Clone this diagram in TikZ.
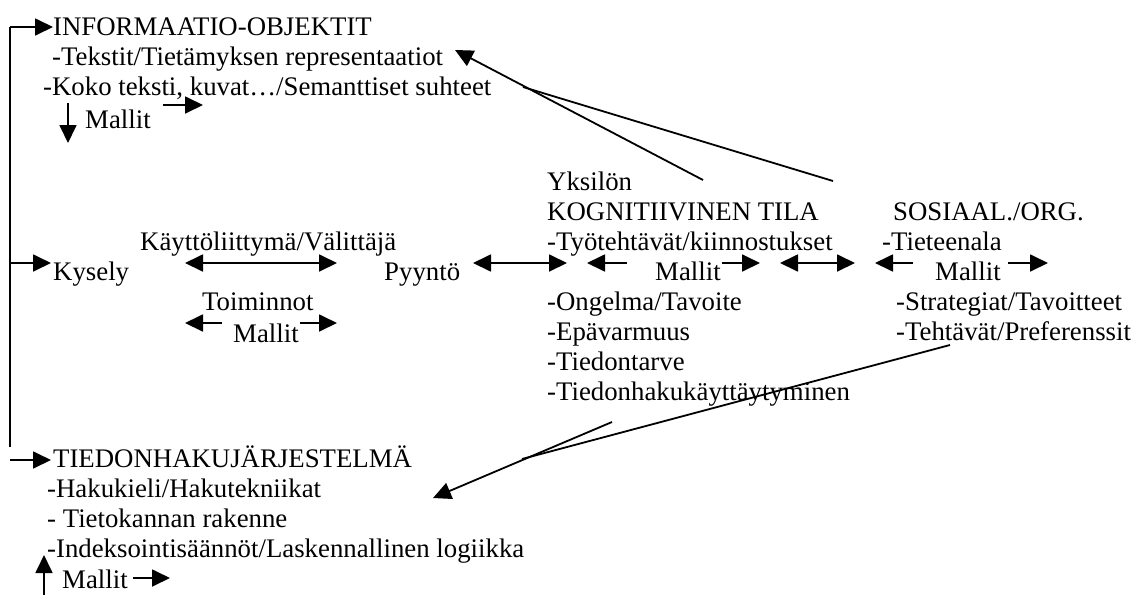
\documentclass[tikz,border=0pt]{standalone}
\usepackage{fontspec}
\setmainfont{Liberation Serif}
\usetikzlibrary{arrows.meta}
\begin{document}
\begin{tikzpicture}[x=1pt,y=-1pt,
  lbl/.style={anchor=base west, inner sep=0pt, font=\fontsize{26.8}{30}\selectfont},
  conn/.style={line width=1.8pt},
  tip/.style={conn, -{Triangle[length=18pt,width=17pt]}},
  both/.style={conn, {Triangle[length=18pt,width=17pt]}-{Triangle[length=18pt,width=17pt]}}]
\useasboundingbox (0,0) rectangle (1135,595);

% information objects
\node[lbl] (info) at (53,35) {INFORMAATIO-OBJEKTIT};
\node[lbl] (t1) at (52,65) {-Tekstit/Tietämyksen representaatiot};
\node[lbl] (t2) at (43,95) {-Koko teksti, kuvat…/Semanttiset suhteet};
\node[lbl] (m1) at (85,128) {Mallit};

% query and interface
\node[lbl] (kysely) at (53,280) {Kysely};
\node[lbl] (kayt) at (140,250) {Käyttöliittymä/Välittäjä};
\node[lbl] (toim) at (202,310) {Toiminnot};
\node[lbl] (m2) at (233,342) {Mallit};
\node[lbl] (pyynto) at (384,280) {Pyyntö};

% individual cognitive state
\node[lbl] (yks) at (547,190) {Yksilön};
\node[lbl] (kog) at (547,220) {KOGNITIIVINEN TILA};
\node[lbl] (tyo) at (547,250) {-Työtehtävät/kiinnostukset};
\node[lbl] (m3) at (655,280) {Mallit};
\node[lbl] (ong) at (547,310) {-Ongelma/Tavoite};
\node[lbl] (epa) at (547,340) {-Epävarmuus};
\node[lbl] (tt) at (547,370) {-Tiedontarve};
\node[lbl] (thk) at (547,400) {-Tiedonhakukäyttäytyminen};

% social / organisational context
\node[lbl] (sos) at (893,220) {SOSIAAL./ORG.};
\node[lbl] (tiet) at (882,250) {-Tieteenala};
\node[lbl] (m4) at (935,280) {Mallit};
\node[lbl] (str) at (896,310) {-Strategiat/Tavoitteet};
\node[lbl] (teh) at (896,340) {-Tehtävät/Preferenssit};

% retrieval system
\node[lbl] (ir) at (53,467) {TIEDONHAKUJÄRJESTELMÄ};
\node[lbl] (hk) at (47,497) {-Hakukieli/Hakutekniikat};
\node[lbl] (tk) at (47,527) {- Tietokannan rakenne};
\node[lbl] (ix) at (47,557) {-Indeksointisäännöt/Laskennallinen logiikka};
\node[lbl] (m5) at (62,588) {Mallit};

% arrow end points
\coordinate (topL) at (10,27);
\coordinate (topR) at (53,27);
\coordinate (botL) at (10,447);
\coordinate (kyL) at (10,263);
\coordinate (kyR) at (51,263);
\coordinate (irL) at (10,460);
\coordinate (irR) at (51,460);
\coordinate (d1a) at (68,103);
\coordinate (d1b) at (68,143);
\coordinate (r1a) at (163,105);
\coordinate (r1b) at (203,105);
\coordinate (k1) at (185,263);
\coordinate (k2) at (337,263);
\coordinate (mla) at (222,323);
\coordinate (mlb) at (185,323);
\coordinate (mra) at (300,323);
\coordinate (mrb) at (337,323);
\coordinate (p1) at (473,263);
\coordinate (p2) at (567,263);
\coordinate (c1a) at (627,263);
\coordinate (c1b) at (587,263);
\coordinate (c2a) at (722,263);
\coordinate (c2b) at (760,263);
\coordinate (s1) at (780,263);
\coordinate (s2) at (855,263);
\coordinate (o1a) at (913,263);
\coordinate (o1b) at (875,263);
\coordinate (o2a) at (1008,263);
\coordinate (o2b) at (1048,263);
\coordinate (u1a) at (44,595);
\coordinate (u1b) at (44,555);
\coordinate (u2a) at (133,578);
\coordinate (u2b) at (170,578);
\coordinate (aS) at (703,180);
\coordinate (aE) at (455,50);
\coordinate (bS) at (833,181);
\coordinate (bE) at (523,87);
\coordinate (cS) at (612,422);
\coordinate (cE) at (433,498);
\coordinate (dS) at (950,345);
\coordinate (dE) at (522,459);

% left bracket
\draw[conn] (topL) -- (botL);
\draw[tip] (topL) -- (topR);
\draw[tip] (kyL) -- (kyR);
\draw[tip] (irL) -- (irR);

% small model arrows
\draw[tip] (d1a) -- (d1b);
\draw[tip] (r1a) -- (r1b);
\draw[both] (k1) -- (k2);
\draw[tip] (mla) -- (mlb);
\draw[tip] (mra) -- (mrb);
\draw[both] (p1) -- (p2);
\draw[tip] (c1a) -- (c1b);
\draw[tip] (c2a) -- (c2b);
\draw[both] (s1) -- (s2);
\draw[tip] (o1a) -- (o1b);
\draw[tip] (o2a) -- (o2b);
\draw[tip] (u1a) -- (u1b);
\draw[tip] (u2a) -- (u2b);

% long connectors
\draw[tip] (aS) -- (aE);
\draw[conn] (bS) -- (bE);
\draw[tip] (cS) -- (cE);
\draw[conn] (dS) -- (dE);
\end{tikzpicture}
\end{document}
